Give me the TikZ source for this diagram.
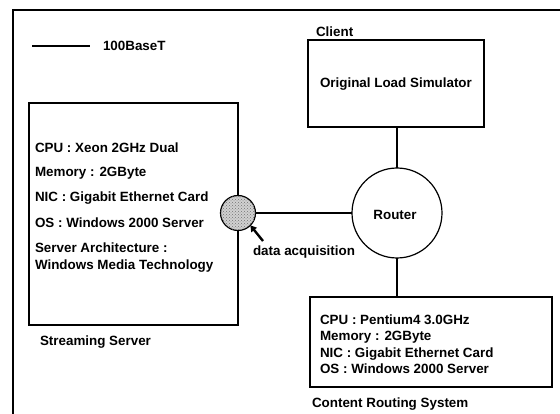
\documentclass[tikz,border=0pt]{standalone}
\usepackage{fontspec}
\setmainfont{Liberation Sans}
\usetikzlibrary{arrows.meta,patterns}
\begin{document}
\begin{tikzpicture}[x=1pt,y=-1pt,
  every node/.style={inner sep=0pt,outer sep=0pt},
  txt/.style={font=\fontsize{13.4}{15}\selectfont\bfseries},
  lbl/.style={txt,anchor=base west},
  hostbox/.style={draw,line width=1.1pt,rectangle,anchor=north west},
  link/.style={line width=2.5pt},
  router/.style={draw,line width=1.2pt,circle,minimum size=90pt},
  tapnode/.style={draw,line width=1.2pt,circle,minimum size=35pt,fill=black!18,
    postaction={pattern=crosshatch dots,pattern color=black!55}}]
\useasboundingbox (0,0) rectangle (560,414);
% outer frame (open at right and bottom)
\draw[line width=1.1pt] (13,414) -- (13,10) -- (560,10);

% legend
\coordinate (lgA) at (32,46);
\coordinate (lgB) at (90,46);
\draw[link] (lgA) -- (lgB);
\node[lbl] (lgT) at (103,51) {100BaseT};

% client
\node[lbl] (clientT) at (316,37) {Client};
\node[hostbox,minimum width=176pt,minimum height=87pt] (client) at (308,40) {};
\node[lbl] (clientL) at (320,88) {Original Load Simulator};

% streaming server
\node[hostbox,minimum width=209pt,minimum height=222pt] (server) at (29,103) {};
\node[lbl] (s1) at (35,153) {CPU : Xeon 2GHz Dual};
\node[lbl] (s2) at (35,177) {Memory : 2GByte};
\node[lbl] (s3) at (35,202) {NIC : Gigabit Ethernet Card};
\node[lbl] (s4) at (35,228) {OS : Windows 2000 Server};
\node[lbl] (s5) at (35,253) {Server Architecture :};
\node[lbl] (s6) at (35,270) {Windows Media Technology};
\node[lbl] (serverT) at (40,345) {Streaming Server};

% router and measurement point
\node[router] (rt) at (397,213) {};
\node[txt,anchor=center] (rtT) at (395,215) {Router};
\node[tapnode] (tap) at (238,213) {};

% content routing system
\node[hostbox,minimum width=242pt,minimum height=90pt] (crs) at (310,297) {};
\node[lbl] (c1) at (320,325) {CPU : Pentium4 3.0GHz};
\node[lbl] (c2) at (320,341) {Memory : 2GByte};
\node[lbl] (c3) at (320,357) {NIC : Gigabit Ethernet Card};
\node[lbl] (c4) at (320,373) {OS : Windows 2000 Server};
\node[lbl] (crsT) at (312,407) {Content Routing System};

% links
\draw[link] (client.south -| rt) -- (rt.north);
\draw[link] (tap.east) -- (rt.west);
\draw[link] (rt.south) -- (crs.north -| rt);

% data acquisition pointer
\node[lbl] (acqT) at (253,256) {data acquisition};
\coordinate (acq) at (263,241);
\draw[line width=2.4pt,-{Triangle[length=6pt,width=7pt]}] (acq) -- (tap.-45);
\end{tikzpicture}
\end{document}
